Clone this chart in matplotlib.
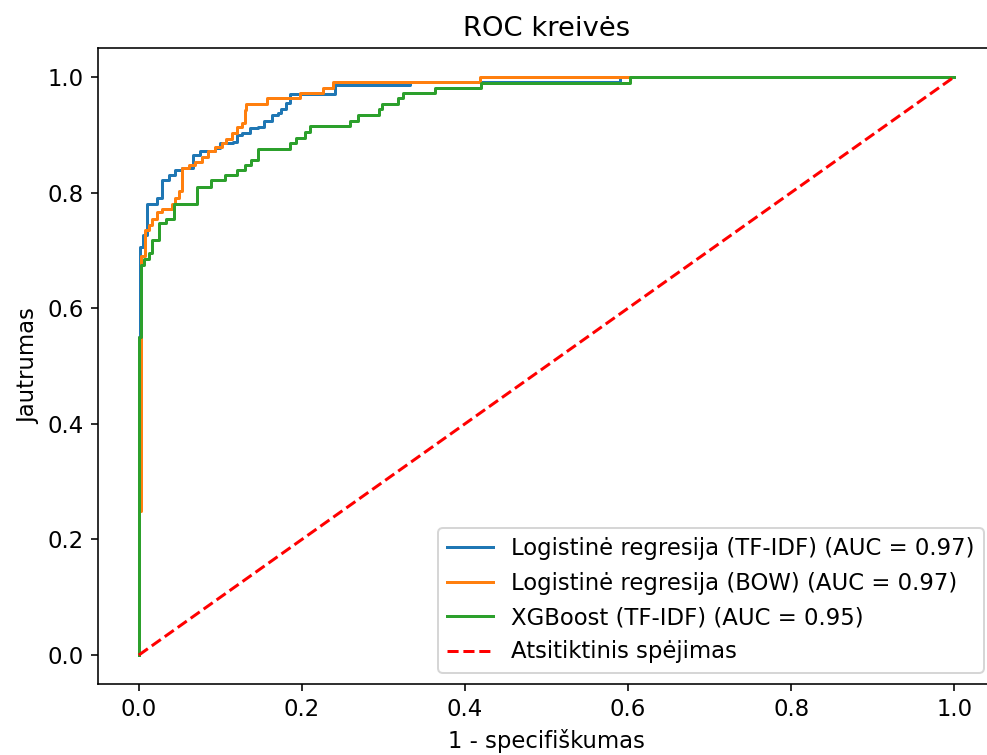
import matplotlib
matplotlib.use("Agg")
import matplotlib.pyplot as plt

# ROC corner points (fpr at the vertical step, tpr at its top)
lr_tfidf_fpr = [0.0, 0.0, 0.002, 0.005, 0.010, 0.022, 0.029, 0.037, 0.045, 0.053,
                0.066, 0.075, 0.093, 0.099, 0.116, 0.120, 0.126, 0.136, 0.146, 0.153,
                0.163, 0.171, 0.175, 0.180, 0.185, 0.2405, 0.3325, 0.59, 1.0]
lr_tfidf_tpr = [0.0, 0.55, 0.706, 0.727, 0.781, 0.790, 0.822, 0.830, 0.839, 0.842,
                0.865, 0.871, 0.877, 0.885, 0.888, 0.900, 0.903, 0.911, 0.914, 0.923,
                0.934, 0.937, 0.945, 0.955, 0.971, 0.986, 0.9915, 1.0, 1.0]

lr_bow_fpr = [0.0, 0.0, 0.0025, 0.0075, 0.012, 0.016, 0.0225, 0.0285, 0.041, 0.045,
              0.049, 0.053, 0.061, 0.0695, 0.0775, 0.085, 0.093, 0.1015, 0.1075, 0.114,
              0.120, 0.126, 0.130, 0.132, 0.157, 0.198, 0.226, 0.2385, 0.418, 1.0]
lr_bow_tpr = [0.0, 0.25, 0.69, 0.735, 0.744, 0.755, 0.767, 0.772, 0.781, 0.790,
              0.802, 0.842, 0.848, 0.853, 0.862, 0.871, 0.879, 0.885, 0.893, 0.903,
              0.914, 0.920, 0.943, 0.954, 0.963, 0.972, 0.980, 0.9915, 1.0, 1.0]

xgb_fpr = [0.0, 0.0, 0.003, 0.006, 0.0123, 0.016, 0.0245, 0.033, 0.043, 0.0715,
           0.089, 0.1055, 0.120, 0.130, 0.138, 0.146, 0.185, 0.193, 0.204, 0.210,
           0.259, 0.269, 0.294, 0.298, 0.318, 0.324, 0.363, 0.420, 0.602, 1.0]
xgb_tpr = [0.0, 0.55, 0.675, 0.685, 0.695, 0.718, 0.747, 0.755, 0.781, 0.810,
           0.822, 0.830, 0.839, 0.848, 0.856, 0.876, 0.885, 0.895, 0.905, 0.915,
           0.924, 0.934, 0.944, 0.954, 0.963, 0.972, 0.980, 0.990, 1.0, 1.0]

labels = ["Logistinė regresija (TF-IDF) (AUC = 0.97)",
          "Logistinė regresija (BOW) (AUC = 0.97)",
          "XGBoost (TF-IDF) (AUC = 0.95)",
          "Atsitiktinis spėjimas"]

plt.rcParams["font.size"] = 11.4

fig = plt.figure(figsize=(987 / 144, 755 / 144), dpi=144)
# axes runs slightly past the right edge, as in the cropped reference
ax = fig.add_axes([98 / 987, 71 / 755, 897 / 987, 636 / 755])

ax.step(lr_tfidf_fpr, lr_tfidf_tpr, where="post", label=labels[0])
ax.step(lr_bow_fpr, lr_bow_tpr, where="post", label=labels[1])
ax.step(xgb_fpr, xgb_tpr, where="post", label=labels[2])
ax.plot([0, 1], [0, 1], "r--", label=labels[3])

ax.set_xlim(-0.05, 1.05)
ax.set_ylim(-0.05, 1.05)
ax.set_xlabel("1 - specifiškumas")
ax.set_ylabel("Jautrumas")
ax.set_title("ROC kreivės")
ax.legend(loc="lower right")

fig.savefig("out.png", dpi=144)
